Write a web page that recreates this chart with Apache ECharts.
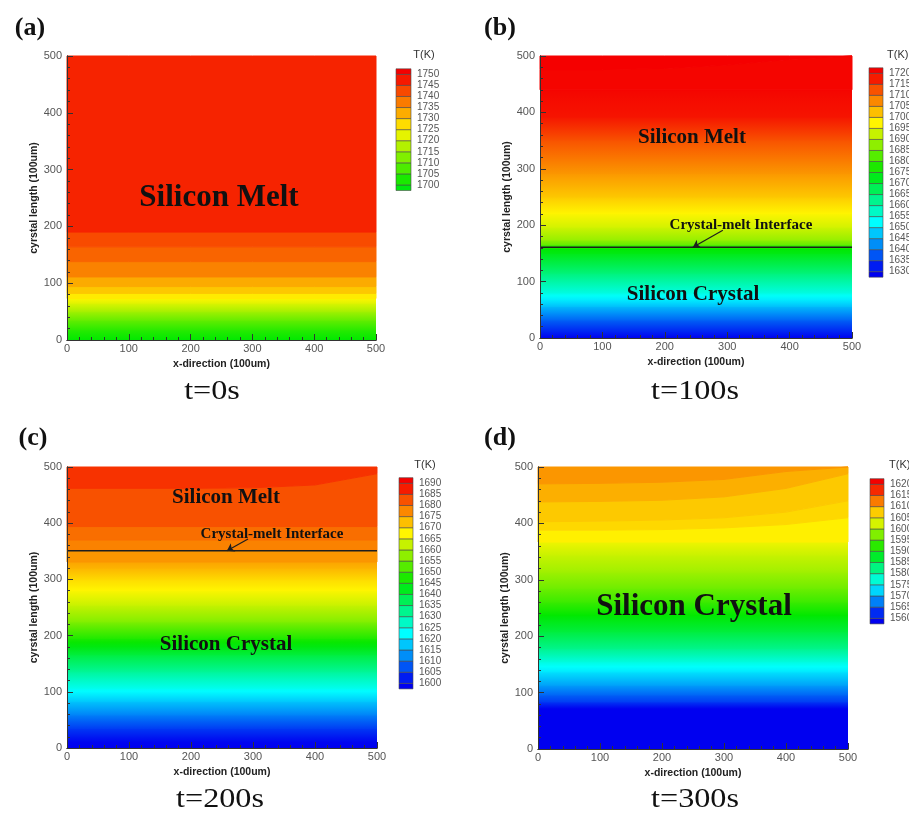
<!DOCTYPE html>
<html><head><meta charset="utf-8">
<script src="https://cdn.jsdelivr.net/npm/echarts@6/dist/echarts.min.js"></script>
<style>html,body{margin:0;padding:0;background:#fff}#c{width:909px;height:814px}</style>
</head><body><div id="c"></div>
<script>
// ---------------- data ----------------
const xTicks = [0, 100, 200, 300, 400, 500];
const yTicks = [0, 100, 200, 300, 400, 500];
const isoX = [0, 100, 200, 300, 400, 500];   // x samples of curved isotherms

const levelsA = [1700,1705,1710,1715,1720,1725,1730,1735,1740,1745,1750];
const levelsB = [1630,1635,1640,1645,1650,1655,1660,1665,1670,1675,1680,1685,1690,1695,1700,1705,1710,1715,1720];
const levelsC = [1600,1605,1610,1615,1620,1625,1630,1635,1640,1645,1650,1655,1660,1665,1670,1675,1680,1685,1690];
const levelsD = [1560,1565,1570,1575,1580,1585,1590,1595,1600,1605,1610,1615,1620];

// smooth temperature profiles [y, T]
const profA = [[0,1700],[18,1704],[35,1710],[50,1716],[65,1722],[73,1725]];
const profB = [[0,1630],[32,1638.8],[56,1646.8],[80,1655.1],[115,1664.4],[150,1673.2],[158,1675],[166,1683.8],[174,1688.2],[197,1693.6],[221,1697.5],[250,1701.6],[292,1706.2],[351,1712.6],[392,1718.2],[440,1719.5]];
const profC = [[0,1600],[12,1600.5],[35,1605.3],[59,1611.5],[83,1617.6],[106,1623.8],[136,1631.7],[166,1639.6],[195,1647.7],[225,1656.5],[254,1662.6],[281,1667.5],[299,1669.8],[320,1673.5],[331,1675]];
const profD = [[0,1560],[72,1560],[84,1563.5],[96,1565.9],[113,1569.4],[137,1573.5],[155,1577],[178,1581.8],[208,1586.4],[237,1590],[261,1593.5],[285,1596.5],[314,1599.4],[344,1601.8],[367,1604.1]];

// discrete flood bands [T of band, upper boundary y (flat or at isoX)]
const bandsA = [[1726,82],[1729.6,94],[1732.6,111],[1736.7,138],[1739.8,164],[1742.3,190],[1746.4,500]];
const bandsB = [[1719.5,[476,476,478,484,494,500]],[1720.5,500]];
const bandsC = [[1676.2,352],[1678.1,370],[1679.9,394],[1682.6,[462,462,462,463,468,488]],[1685.4,500]];
const bandsD = [[1605.3,[388,388,389,392,398,410]],[1606.8,[403,404,406,410,420,440]],[1607.7,[438,439,441,447,462,488]],[1609.3,[470,471,473,478,492,500]],[1610.8,500]];

const interfaceB = 161;
const interfaceC = 351;
const arrowB = [[293,191],[245,161]];
const arrowC = [[292,372],[258,351]];

// ---------------- styles / layout ----------------
const CMAP = [[0,[0,0,240]],[0.25,[0,255,255]],[0.5,[0,232,0]],[0.75,[255,245,0]],[1,[245,0,0]]];
function tColor(T, range) {
  let t = (T - range[0]) / (range[1] - range[0]);
  t = Math.max(0, Math.min(1, t));
  for (let i = 1; i < CMAP.length; i++) {
    if (t <= CMAP[i][0] + 1e-9) {
      const [t0, c0] = CMAP[i-1], [t1, c1] = CMAP[i];
      const f = (t - t0) / (t1 - t0);
      return 'rgb(' + c0.map((v,k)=>Math.round(v + (c1[k]-v)*f)).join(',') + ')';
    }
  }
  return 'rgb(245,0,0)';
}

const panels = [
  {prof: profA, bands: bandsA, levels: levelsA, range:[1650,1750],
   grid:{left:67,top:56,width:309,height:284}, bar:{left:396,top:68.8,width:15,height:121.7}},
  {prof: profB, bands: bandsB, levels: levelsB, range:[1630,1720],
   grid:{left:540,top:56,width:312,height:282}, bar:{left:869,top:67.8,width:14,height:209.4}},
  {prof: profC, bands: bandsC, levels: levelsC, range:[1600,1690],
   grid:{left:67,top:467,width:310,height:281}, bar:{left:399,top:477.7,width:14,height:211.2}},
  {prof: profD, bands: bandsD, levels: levelsD, range:[1560,1620],
   grid:{left:538,top:467,width:310,height:282}, bar:{left:870,top:478.7,width:14,height:145.2}}
];

const XMIN = xTicks[0], XMAX = xTicks[xTicks.length-1];
const YMIN = yTicks[0], YMAX = yTicks[yTicks.length-1];

function expand(b) { return Array.isArray(b) ? b : isoX.map(()=>b); }

const grids = [], xAxes = [], yAxes = [], series = [];

panels.forEach((P) => grids.push(Object.assign({outerBoundsMode:'none', containLabel:false}, P.grid)));
panels.forEach((P) => grids.push(Object.assign({outerBoundsMode:'none', containLabel:false}, P.bar)));

const axisLabelStyle = {fontSize: 11, color: '#555', fontFamily: 'Liberation Sans, Arial, sans-serif'};
const nameStyle = {fontSize: 10.5, fontWeight: 'bold', color: '#222', fontFamily: 'Liberation Sans, Arial, sans-serif'};
const lineCol = '#333';

panels.forEach((P, p) => {
  xAxes.push({gridIndex:p, type:'value', min:XMIN, max:XMAX, interval:100, z:5,
    name:'x-direction (100um)', nameLocation:'middle', nameGap:19, nameTextStyle:nameStyle,
    axisLine:{show:true, lineStyle:{color:lineCol, width:1}},
    axisTick:{show:true, inside:true, length:6, lineStyle:{color:lineCol}},
    minorTick:{show:true, splitNumber:5, length:3, lineStyle:{color:lineCol}},
    axisLabel:Object.assign({margin:3}, axisLabelStyle),
    splitLine:{show:false}});
  xAxes.push({gridIndex:p, type:'value', position:'top', min:XMIN, max:XMAX, interval:100, z:5,
    axisLine:{show:true, lineStyle:{color:lineCol, width:1}}, axisTick:{show:false},
    axisLabel:{show:false}, splitLine:{show:false}});
  yAxes.push({gridIndex:p, type:'value', min:YMIN, max:YMAX, interval:100, z:5,
    name:'cyrstal length (100um)', nameLocation:'middle', nameGap:27, nameTextStyle:nameStyle,
    axisLine:{show:true, lineStyle:{color:lineCol, width:1}},
    axisTick:{show:true, inside:true, length:6, lineStyle:{color:lineCol}},
    minorTick:{show:true, splitNumber:5, length:3, lineStyle:{color:lineCol}},
    axisLabel:Object.assign({margin:5}, axisLabelStyle),
    splitLine:{show:false}});
  yAxes.push({gridIndex:p, type:'value', position:'right', min:YMIN, max:YMAX, interval:100, z:5,
    axisLine:{show:true, lineStyle:{color:lineCol, width:1}}, axisTick:{show:false},
    axisLabel:{show:false}, splitLine:{show:false}});
});
panels.forEach((P, p) => {
  const L = P.levels;
  xAxes.push({gridIndex:4+p, type:'value', min:0, max:1, show:false});
  yAxes.push({gridIndex:4+p, type:'value', position:'right',
    min: L[0] - 2.5, max: L[L.length-1] + 2.5,
    axisLine:{show:false}, axisTick:{show:false, customValues:L}, splitLine:{show:false},
    axisLabel:{show:true, customValues:L, margin:6, fontSize:10, color:'#555',
      fontFamily:'Liberation Sans, Arial, sans-serif', formatter:(v)=>String(v)}});
});

// field series
panels.forEach((P, p) => {
  const items = [];
  for (let i = 0; i < P.prof.length - 1; i++) items.push({kind:'s', i});
  P.bands.forEach((b, j) => items.push({kind:'b', j}));
  series.push({
    type:'custom', coordinateSystem:'cartesian2d', xAxisIndex:2*p, yAxisIndex:2*p, silent:true, z:2,
    data: items.map((_, k) => [k]),
    renderItem(params, api) {
      const it = items[params.dataIndex];
      if (it.kind === 's') {
        const [y0, t0] = P.prof[it.i], [y1, t1] = P.prof[it.i+1];
        const a = api.coord([XMIN, y0]), b = api.coord([XMAX, y1]);
        const stops = [0, 0.25, 0.5, 0.75, 1].map(f => ({offset:f, color:tColor(t0 + (t1 - t0)*f, P.range)}));
        const fill = new echarts.graphic.LinearGradient(0, 1, 0, 0, stops);
        return {type:'rect', shape:{x:a[0], y:b[1]-0.6, width:b[0]-a[0], height:a[1]-b[1]+1.2},
                style:{fill: fill}};
      }
      const lowB = it.j === 0 ? P.prof[P.prof.length-1][0] : P.bands[it.j-1][1];
      const lo = expand(lowB), hi = expand(P.bands[it.j][1]);
      const pts = [];
      isoX.forEach((x, k) => pts.push(api.coord([x, lo[k]])));
      for (let k = isoX.length - 1; k >= 0; k--) pts.push(api.coord([isoX[k], hi[k]]));
      const c = tColor(P.bands[it.j][0], P.range);
      return {type:'polygon', shape:{points:pts}, style:{fill:c, stroke:c, lineWidth:1}};
    }
  });
});

// colour bars
panels.forEach((P, p) => {
  const L = P.levels;
  const boxes = [[L[0]-2.5, L[0], L[0]-1.25]];
  for (let i = 0; i < L.length - 1; i++) boxes.push([L[i], L[i+1], (L[i]+L[i+1])/2]);
  boxes.push([L[L.length-1], L[L.length-1]+2.5, L[L.length-1]+1.25]);
  series.push({
    type:'custom', coordinateSystem:'cartesian2d', xAxisIndex:8+p, yAxisIndex:8+p, silent:true,
    data: boxes,
    renderItem(params, api) {
      const a = api.coord([0, api.value(1)]), b = api.coord([1, api.value(0)]);
      return {type:'rect', shape:{x:a[0], y:a[1], width:b[0]-a[0], height:b[1]-a[1]},
              style:{fill:tColor(api.value(2), P.range), stroke:'#4a4a4a', lineWidth:0.6}};
    }
  });
});

// interface lines + arrows
[[1, interfaceB, arrowB], [2, interfaceC, arrowC]].forEach(([p, yI, arr]) => {
  series.push({
    type:'line', xAxisIndex:2*p, yAxisIndex:2*p, z:4, silent:true, symbol:'none',
    data:[[XMIN, yI], [XMAX, yI]],
    lineStyle:{color:'#1e1e1e', width:1.6},
    markLine:{silent:true, symbol:['none','arrow'], symbolSize:7, animation:false,
      label:{show:false}, lineStyle:{color:'#1e1e1e', width:1.2, type:'solid'},
      data:[[{coord:arr[0]}, {coord:arr[1]}]]}
  });
});

// texts
const serif = "'Liberation Serif', 'Times New Roman', serif";
const sans = "'Liberation Sans', Arial, sans-serif";
function txt(text, x, y, font, opts) {
  opts = opts || {};
  return Object.assign({type:'text', x:x, y:y, z:100, silent:true,
    style:{text:text, font:font, fill:opts.fill || '#111', align:opts.align || 'center', verticalAlign:'middle',
           textAlign:opts.align || 'center', textVerticalAlign:'middle'}}, opts.scaleX ? {scaleX: opts.scaleX} : {});
}
const texts = [
  txt('(a)', 30, 28, 'bold 26px ' + serif),
  txt('(b)', 500, 28, 'bold 26px ' + serif),
  txt('(c)', 33, 438, 'bold 26px ' + serif),
  txt('(d)', 500, 438, 'bold 26px ' + serif),
  txt('t=0s', 212, 392, '28px ' + serif, {scaleX:1.15}),
  txt('t=100s', 695, 392, '28px ' + serif, {scaleX:1.15}),
  txt('t=200s', 220, 800, '28px ' + serif, {scaleX:1.15}),
  txt('t=300s', 695, 800, '28px ' + serif, {scaleX:1.15}),
  txt('Silicon Melt', 219, 198, 'bold 31px ' + serif),
  txt('Silicon Melt', 692, 138, 'bold 21px ' + serif),
  txt('Crystal-melt Interface', 741, 225, 'bold 15px ' + serif),
  txt('Silicon Crystal', 693, 295, 'bold 21px ' + serif),
  txt('Silicon Melt', 226, 498, 'bold 21px ' + serif),
  txt('Crystal-melt Interface', 272, 534, 'bold 15px ' + serif),
  txt('Silicon Crystal', 226, 645, 'bold 21px ' + serif),
  txt('Silicon Crystal', 694, 607, 'bold 31px ' + serif),
  txt('T(K)', 424, 55, '11px ' + sans, {fill:'#333'}),
  txt('T(K)', 887, 55, '11px ' + sans, {fill:'#333', align:'left'}),
  txt('T(K)', 425, 465, '11px ' + sans, {fill:'#333'}),
  txt('T(K)', 889, 465, '11px ' + sans, {fill:'#333', align:'left'})
];

const chart = echarts.init(document.getElementById('c'), null, {renderer:'canvas'});
chart.setOption({
  animation:false,
  backgroundColor:'#ffffff',
  grid: grids, xAxis: xAxes, yAxis: yAxes, series: series,
  graphic: {elements: texts}
});
</script></body></html>
